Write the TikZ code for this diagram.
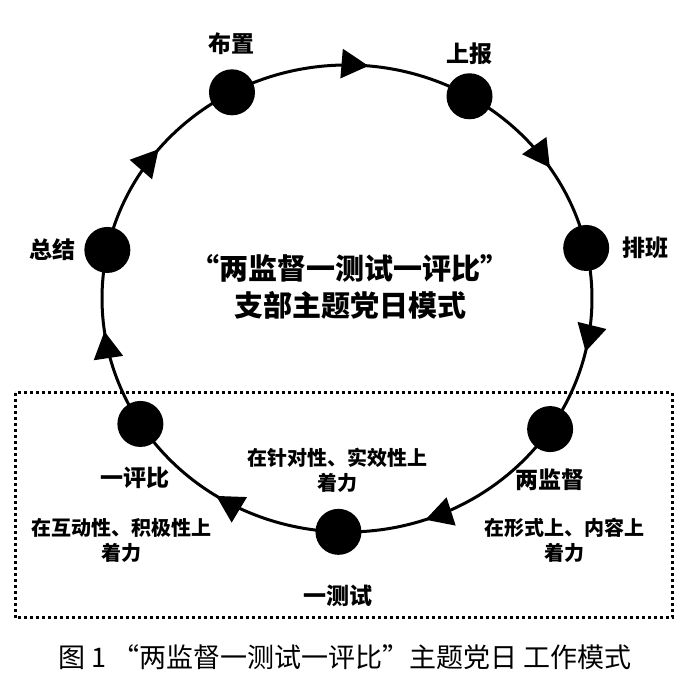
\documentclass[tikz,border=0pt]{standalone}
\usepackage{fontspec}
\newfontfamily\cjk{Noto Sans CJK SC}
\usetikzlibrary{positioning,arrows.meta,decorations.markings}

\tikzset{
  dot/.style={circle,fill=black,minimum size=46pt,inner sep=0pt},
  lbl/.style={font=\cjk\bfseries\fontsize{23}{26}\selectfont,inner sep=0pt},
  note/.style={font=\cjk\bfseries\fontsize{20}{25}\selectfont,align=center,inner sep=0pt},
  flow/.style={line width=3pt,postaction={decorate},
    decoration={markings,mark=at position #1 with {\arrow{Triangle[length=27pt,width=29pt]}}}},
  frame/.style={line width=3pt,dash pattern=on 3pt off 3pt},
}

\begin{document}
\begin{tikzpicture}[x=1pt,y=1pt]
    \useasboundingbox (0,0) rectangle (700,684);
    \coordinate (c) at (347,385.5);
    % stations on the loop
    \foreach \name/\ang in {buzhi/118, shangbao/60, paiban/12.5, jiandu/-34, ceshi/-92, pingbi/-147.5, zongjie/168}
        \node[dot] (\name) at ([shift={(\ang:245pt and 233.5pt)}]c) {};
    % clockwise arcs between stations
    \foreach \from/\s/\e/\pos in {buzhi/118/60/0.57, shangbao/60/12.5/0.55, paiban/12.5/-34/0.55, jiandu/-34/-92/0.64, ceshi/-92/-147.5/0.55, pingbi/-147.5/-192/0.55, zongjie/168/118/0.55}
        \draw[flow=\pos] (\from.center) arc[start angle=\s, end angle=\e, x radius=245pt, y radius=233.5pt];
    \node[lbl,above=14pt of buzhi] (buzhiT) {布置};
    \node[lbl,above=8pt of shangbao] (shangbaoT) {上报};
    \node[lbl,right=13pt of paiban] (paibanT) {排班};
    \node[lbl,left=8pt of zongjie] (zongjieT) {总结};
    \node[lbl,below=20pt of pingbi,xshift=-5pt] (pingbiT) {一评比};
    \node[lbl,below=16pt of jiandu] (jianduT) {两监督};
    \node[lbl,below=30pt of ceshi] (ceshiT) {一测试};
    \node[note] (ceshiN) at (337,214) {在针对性、实效性上\\着力};
    \node[note] (pingbiN) at (121,144) {在互动性、积极性上\\着力};
    \node[note] (jianduN) at (564,144) {在形式上、内容上\\着力};
    \node[font=\cjk\bfseries\fontsize{29}{37}\selectfont,align=center] (title) at (350,397.5) {“两监督一测试一评比”\\支部主题党日模式};
    \draw[frame] (15,291) rectangle (672,66);
    \node[font=\cjk\fontsize{27}{30}\selectfont] (caption) at (345,27) {图 1 “两监督一测试一评比”主题党日 工作模式};
\end{tikzpicture}
\end{document}
